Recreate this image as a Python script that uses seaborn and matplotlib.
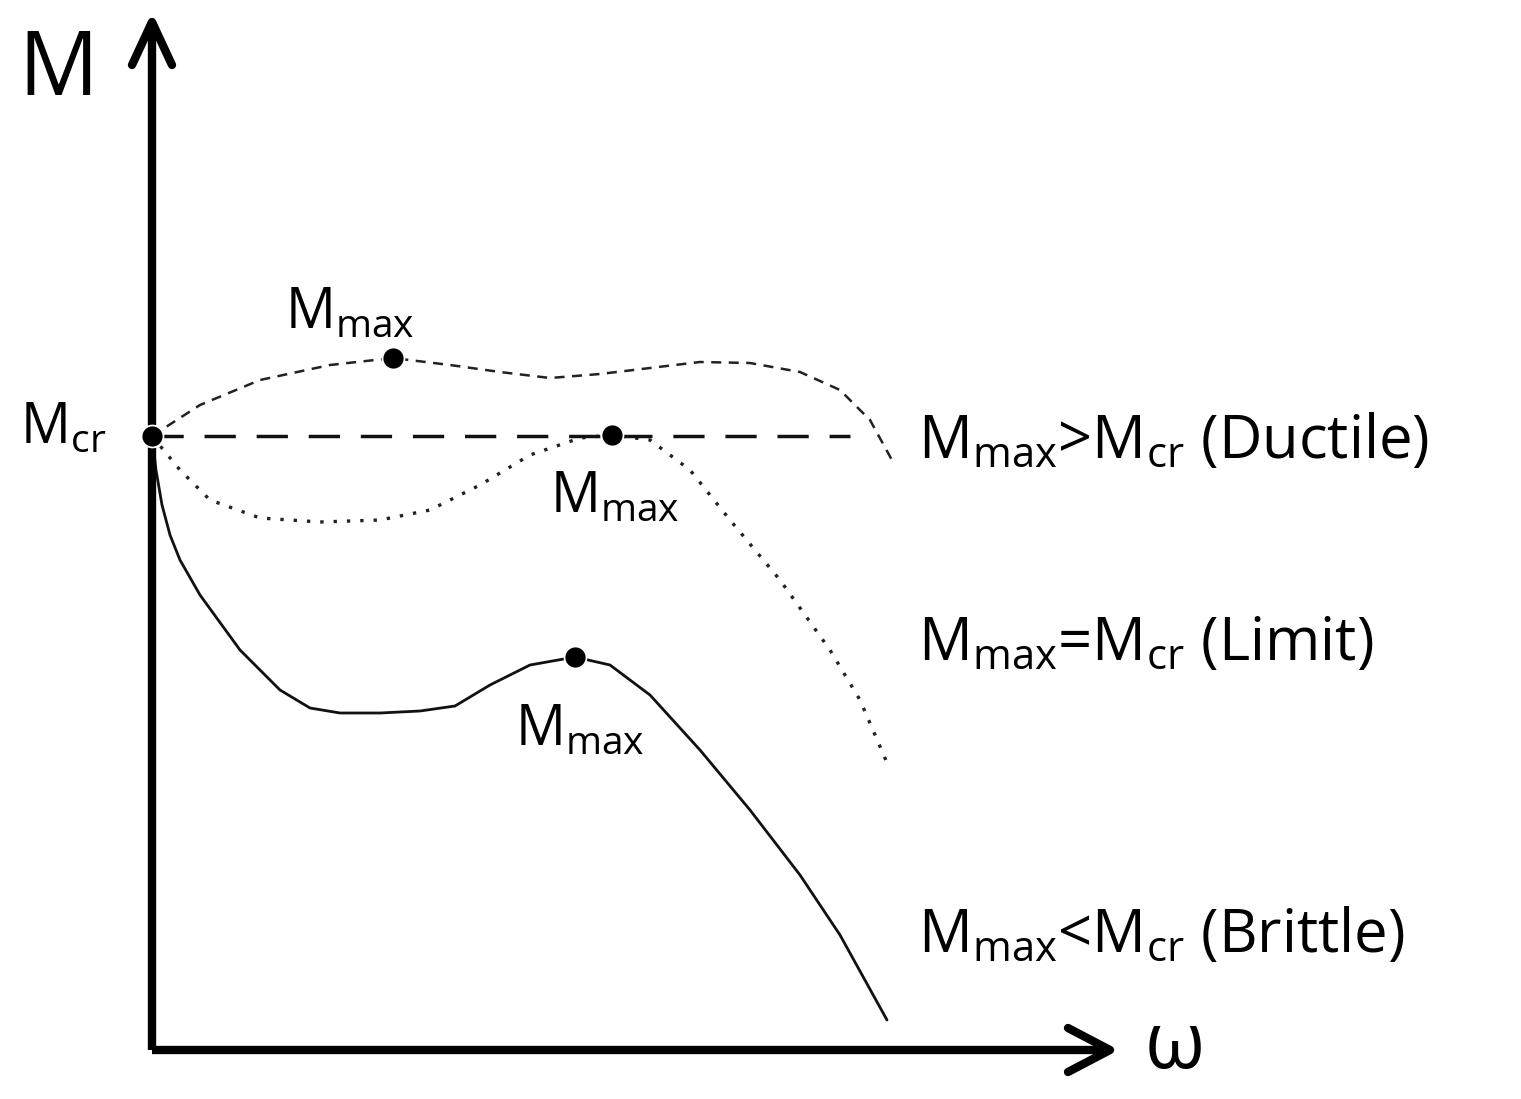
import matplotlib
matplotlib.use("Agg")
import matplotlib.pyplot as plt
import seaborn as sns

sns.set_theme(style="white")
plt.rcParams['font.family'] = ['Open Sans', 'DejaVu Sans']
plt.rcParams['mathtext.fontset'] = 'custom'
plt.rcParams['mathtext.rm'] = 'Open Sans'
plt.rcParams['mathtext.it'] = 'Open Sans'

# schematic curves (x = rotation, y = moment; picture coordinates, y downward)
ductile_x = [152,200,260,330,393,450,500,550,600,650,700,750,800,840,870,893]
ductile_y = [436,405,380,365,358,365,372,378,374,368,362,363,372,390,420,462]
limit_x = [152,180,210,260,320,380,430,480,530,580,612,650,690,730,780,830,860,888]
limit_y = [436,470,500,518,522,520,510,485,455,438,435,440,470,520,580,650,700,765]
brittle_x = [152,156,162,170,180,200,240,280,310,340,380,420,455,490,530,575,610,650,700,750,800,840,887]
brittle_y = [436,470,505,535,560,595,650,690,708,713,713,711,706,685,665,657,665,695,750,810,875,935,1020]
mcr_x = [152, 850]
mcr_y = [436, 436]
pts_x = [152, 393, 612, 575]
pts_y = [436, 358, 435, 657]

fig = plt.figure(figsize=(15.21, 10.99), dpi=100)
ax = fig.add_axes([0, 0, 1, 1])
ax.set_xlim(0, 1521); ax.set_ylim(1099, 0); ax.axis('off')

sns.lineplot(x=ductile_x, y=ductile_y, sort=False, ax=ax, color='#222', lw=1.8, linestyle=(0, (4, 3)))
sns.lineplot(x=limit_x, y=limit_y, sort=False, ax=ax, color='#222', lw=2.4, linestyle=(0, (1, 3)))
sns.lineplot(x=brittle_x, y=brittle_y, sort=False, ax=ax, color='#111', lw=2)
sns.lineplot(x=mcr_x, y=mcr_y, sort=False, ax=ax, color='#111', lw=2.5, linestyle=(0, (9, 6)))
sns.scatterplot(x=pts_x, y=pts_y, ax=ax, color='black', s=250, zorder=5)

# axes arrows
ax.plot([152, 152], [1050, 25], color='black', lw=6, solid_capstyle='butt')
ax.plot([152, 1105], [1050, 1050], color='black', lw=6, solid_capstyle='butt')
ax.plot([132, 152, 172], [65, 22, 65], color='black', lw=6)
ax.plot([1068, 1110, 1068], [1028, 1050, 1072], color='black', lw=6)

kw = dict(color='black')
ax.text(18, 95, 'M', fontsize=64, **kw)
ax.text(1145, 1068, 'ω', fontsize=56, **kw)
ax.text(20, 443, r'M$_{\mathregular{cr}}$', fontsize=40, **kw)
ax.text(285, 328, r'M$_{\mathregular{max}}$', fontsize=40, **kw)
ax.text(550, 512, r'M$_{\mathregular{max}}$', fontsize=40, **kw)
ax.text(515, 745, r'M$_{\mathregular{max}}$', fontsize=40, **kw)
ax.text(918, 458, r'M$_{\mathregular{max}}$>M$_{\mathregular{cr}}$ (Ductile)', fontsize=43, **kw)
ax.text(918, 660, r'M$_{\mathregular{max}}$=M$_{\mathregular{cr}}$ (Limit)', fontsize=43, **kw)
ax.text(918, 952, r'M$_{\mathregular{max}}$<M$_{\mathregular{cr}}$ (Brittle)', fontsize=43, **kw)

fig.savefig('out.png', dpi=100)
